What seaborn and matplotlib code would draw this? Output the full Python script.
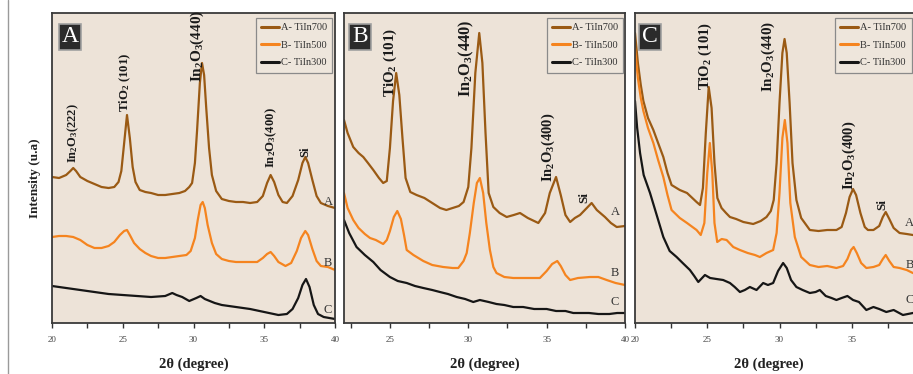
import numpy as np
import pandas as pd
import matplotlib
matplotlib.use("Agg")
import matplotlib.pyplot as plt
from matplotlib.lines import Line2D
import seaborn as sns

# ---------------- data (2theta in degree, intensity in a.u.) ----------------
panel_names = ["A", "B", "C"]
series_labels = ["A- TiIn700", "B- TiIn500", "C- TiIn300"]
series_colors = ["#9a5a14", "#f5841f", "#161616"]
x_limits = [(20, 40), (22.07, 40), (20, 40)]
x_ticks = [20, 25, 30, 35, 40]

# Panel A
pA_x700 = [20.0, 20.5, 21.0, 21.3, 21.5, 21.7, 22.0, 22.5, 23.0, 23.5, 24.0, 24.4, 24.7, 24.9, 25.1, 25.3, 25.5, 25.7, 25.9, 26.2, 26.6, 27.0, 27.5, 28.0, 28.5, 29.0, 29.4, 29.7, 29.9, 30.1, 30.25, 30.45, 30.6, 30.75, 30.9, 31.1, 31.3, 31.6, 32.0, 32.5, 33.0, 33.5, 34.0, 34.5, 34.9, 35.2, 35.45, 35.7, 36.0, 36.3, 36.6, 37.0, 37.4, 37.7, 37.9, 38.1, 38.4, 38.7, 39.0, 39.5, 40.0]
pA_y700 = [146, 145, 148, 152, 155, 152, 146, 142, 139, 136, 135, 136, 141, 152, 180, 208, 185, 156, 141, 133, 131, 130, 128, 128, 129, 130, 132, 136, 140, 160, 192, 240, 260, 248, 215, 175, 148, 132, 124, 122, 121, 121, 120, 121, 127, 140, 148, 141, 128, 121, 120, 127, 143, 160, 166, 160, 143, 127, 120, 117, 115]
pA_x500 = [20.0, 20.5, 21.0, 21.5, 22.0, 22.5, 23.0, 23.5, 24.0, 24.4, 24.8, 25.1, 25.3, 25.5, 25.8, 26.2, 26.6, 27.0, 27.5, 28.0, 28.5, 29.0, 29.5, 29.8, 30.1, 30.3, 30.5, 30.65, 30.8, 31.0, 31.3, 31.6, 32.0, 32.5, 33.0, 33.5, 34.0, 34.5, 34.9, 35.2, 35.45, 35.7, 36.0, 36.5, 36.9, 37.3, 37.6, 37.9, 38.1, 38.4, 38.7, 39.0, 39.5, 40.0]
pA_y500 = [86, 87, 87, 86, 83, 78, 75, 75, 77, 81, 88, 92, 93, 88, 80, 74, 70, 67, 65, 65, 66, 67, 68, 72, 85, 103, 118, 121, 115, 98, 80, 69, 64, 62, 61, 61, 61, 61, 65, 69, 71, 67, 61, 57, 60, 72, 85, 92, 88, 74, 62, 57, 56, 53]
pA_x300 = [20.0, 21.0, 22.0, 23.0, 24.0, 25.0, 26.0, 27.0, 28.0, 28.5, 28.8, 29.2, 29.7, 30.2, 30.5, 30.8, 31.5, 32.0, 33.0, 34.0, 35.0, 36.0, 36.6, 37.0, 37.4, 37.7, 37.95, 38.2, 38.5, 38.8, 39.2, 40.0]
pA_y300 = [37, 35, 33, 31, 29, 28, 27, 26, 27, 30, 28, 26, 22, 25, 27, 24, 20, 18, 16, 14, 11, 8, 9, 14, 25, 38, 44, 36, 18, 9, 6, 4]

# Panel B
pB_x700 = [22.07, 22.3, 22.66, 23.0, 23.3, 23.6, 23.94, 24.3, 24.57, 24.8, 25.0, 25.2, 25.4, 25.6, 25.8, 26.0, 26.3, 26.7, 27.2, 27.7, 28.2, 28.6, 29.0, 29.4, 29.7, 30.0, 30.2, 30.45, 30.7, 30.9, 31.1, 31.3, 31.6, 32.0, 32.45, 32.9, 33.3, 33.8, 34.47, 34.9, 35.2, 35.6, 35.9, 36.2, 36.5, 36.8, 37.13, 37.5, 37.87, 38.2, 38.72, 39.1, 39.47, 40.0]
pB_y700 = [203, 190, 176, 170, 166, 160, 153, 145, 140, 142, 175, 222, 250, 228, 185, 145, 131, 128, 125, 120, 115, 113, 115, 117, 121, 136, 175, 250, 290, 260, 190, 130, 116, 110, 106, 108, 110, 105, 100, 110, 130, 146, 128, 108, 101, 105, 108, 114, 120, 113, 106, 100, 96, 97]
pB_x500 = [22.07, 22.3, 22.66, 23.0, 23.4, 23.73, 24.1, 24.57, 24.8, 25.0, 25.25, 25.47, 25.7, 25.9, 26.07, 26.5, 27.13, 27.7, 28.4, 29.0, 29.36, 29.7, 29.9, 30.1, 30.35, 30.55, 30.74, 30.95, 31.15, 31.38, 31.6, 31.8, 32.3, 32.87, 33.5, 34.0, 34.57, 35.0, 35.35, 35.68, 35.9, 36.2, 36.5, 37.0, 37.76, 38.3, 38.83, 39.4, 40.0]
pB_y500 = [130, 115, 103, 95, 89, 85, 83, 79, 83, 92, 106, 112, 104, 88, 73, 68, 62, 58, 56, 55, 55, 62, 70, 90, 120, 140, 145, 130, 100, 73, 56, 50, 46, 45, 45, 45, 45, 52, 59, 62, 57, 48, 43, 45, 46, 46, 43, 40, 38]
pB_x300 = [22.07, 22.4, 22.87, 23.4, 23.94, 24.4, 25.0, 25.5, 26.07, 26.6, 27.13, 27.7, 28.19, 28.7, 29.26, 29.8, 30.32, 30.74, 31.3, 31.8, 32.3, 32.87, 33.5, 34.2, 35.0, 35.6, 36.2, 36.7, 37.13, 37.7, 38.3, 39.0, 39.5, 40.0]
pB_y300 = [103, 90, 76, 68, 61, 53, 46, 42, 40, 37, 35, 33, 31, 29, 26, 24, 21, 23, 21, 19, 18, 16, 16, 14, 14, 12, 12, 10, 10, 10, 9, 9, 10, 10]

# Panel C
pC_x700 = [20.0, 20.2, 20.4, 20.58, 20.9, 21.27, 21.6, 21.96, 22.25, 22.53, 23.1, 23.6, 24.26, 24.5, 24.7, 24.9, 25.1, 25.3, 25.5, 25.7, 25.99, 26.3, 26.57, 27.0, 27.5, 28.18, 28.7, 29.1, 29.4, 29.6, 29.8, 30.0, 30.2, 30.35, 30.5, 30.7, 30.9, 31.17, 31.5, 32.1, 32.7, 33.3, 33.94, 34.3, 34.6, 34.85, 35.09, 35.3, 35.6, 35.9, 36.12, 36.5, 36.9, 37.15, 37.35, 37.6, 37.9, 38.31, 38.8, 39.23, 40.0]
pC_y700 = [290, 260, 238, 222, 205, 193, 180, 166, 150, 138, 133, 130, 121, 118, 135, 190, 236, 215, 160, 125, 115, 110, 106, 104, 101, 99, 102, 106, 112, 123, 160, 220, 270, 284, 270, 220, 160, 123, 105, 93, 92, 93, 93, 96, 110, 126, 134, 128, 110, 96, 93, 93, 97, 106, 111, 104, 95, 90, 89, 88, 86]
pC_x500 = [20.0, 20.2, 20.4, 20.58, 20.9, 21.27, 21.6, 21.96, 22.25, 22.53, 23.1, 23.6, 24.26, 24.55, 24.8, 25.0, 25.18, 25.35, 25.5, 25.69, 26.0, 26.34, 26.8, 27.26, 27.8, 28.3, 28.64, 29.1, 29.56, 29.8, 30.0, 30.2, 30.37, 30.55, 30.75, 31.06, 31.5, 32.1, 32.7, 33.3, 33.94, 34.4, 34.7, 34.95, 35.13, 35.35, 35.65, 36.01, 36.5, 36.9, 37.15, 37.35, 37.6, 37.9, 38.31, 38.8, 39.23, 40.0]
pC_y500 = [275, 245, 225, 212, 195, 180, 163, 146, 128, 113, 105, 100, 93, 88, 100, 150, 180, 150, 100, 81, 84, 83, 76, 73, 70, 68, 66, 70, 73, 90, 130, 185, 203, 180, 120, 86, 66, 58, 56, 57, 55, 57, 64, 73, 76, 70, 60, 55, 56, 58, 64, 68, 62, 56, 55, 53, 50, 48]
pC_x300 = [20.0, 20.15, 20.35, 20.6, 21.04, 21.5, 21.96, 22.4, 22.88, 23.3, 23.8, 24.1, 24.38, 24.84, 25.2, 25.64, 26.1, 26.57, 26.9, 27.26, 27.6, 27.95, 28.41, 28.87, 29.2, 29.56, 29.9, 30.25, 30.5, 30.8, 31.17, 31.6, 32.1, 32.5, 32.79, 33.2, 33.6, 33.94, 34.3, 34.7, 35.09, 35.5, 36.01, 36.5, 36.9, 37.39, 37.9, 38.54, 39.23, 40.0]
pC_y300 = [222, 195, 170, 148, 130, 108, 86, 72, 66, 60, 53, 47, 41, 48, 45, 44, 43, 40, 36, 31, 33, 36, 33, 40, 38, 40, 52, 60, 55, 43, 36, 33, 30, 31, 33, 27, 25, 23, 25, 27, 23, 21, 13, 16, 14, 11, 13, 8, 10, 9]

panel_data = [
    [(pA_x700, pA_y700), (pA_x500, pA_y500), (pA_x300, pA_y300)],
    [(pB_x700, pB_y700), (pB_x500, pB_y500), (pB_x300, pB_y300)],
    [(pC_x700, pC_y700), (pC_x500, pC_y500), (pC_x300, pC_y300)],
]

# peak annotations: (text, x, y-bottom, font size)
peak_labels = [
    [("In$_2$O$_3$(222)", 21.5, 160, 9), ("TiO$_2$ (101)", 25.2, 211, 9.2),
     ("In$_2$O$_3$(440)", 30.25, 241, 11), ("In$_2$O$_3$(400)", 35.5, 155, 9.2), ("Si", 37.9, 166, 9)],
    [("TiO$_2$ (101)", 25.0, 226, 10.8), ("In$_2$O$_3$(440)", 29.9, 226, 11.8),
     ("In$_2$O$_3$(400)", 35.1, 141, 10.5), ("Si", 37.4, 120, 9.5)],
    [("TiO$_2$ (101)", 24.84, 233, 10.6), ("In$_2$O$_3$(440)", 29.2, 231, 10.8),
     ("In$_2$O$_3$(400)", 34.85, 133, 10.5), ("Si", 37.1, 113, 9.5)],
]
curve_tags = ["A", "B", "C"]
curve_tag_pos = [
    [(39.5, 121), (39.5, 60), (39.5, 13)],
    [(39.36, 111), (39.36, 50), (39.36, 21)],
    [(39.0, 100), (39.0, 58), (39.0, 23)],
]

# ---------------- style ----------------
sns.set_style("ticks")
serif = ["Liberation Serif", "DejaVu Serif"]
plt.rcParams["font.family"] = serif
plt.rcParams["mathtext.fontset"] = "custom"
plt.rcParams["mathtext.rm"] = "Liberation Serif:bold"
plt.rcParams["mathtext.bf"] = "Liberation Serif:bold"
plt.rcParams["mathtext.default"] = "bf"

W, H = 913, 374
fig = plt.figure(figsize=(W / 100, H / 100), dpi=100)
fig.patch.set_facecolor("white")

# axes boxes in pixels: (left, right) ; top 13, bottom 323
ax_px = [(52, 335), (344, 625), (635, 924)]
top_px, bot_px = 13, 323
xlabel_center = [0.5, 0.5, 0.464]
legend_anchor = [(0.99, 0.985), (0.994, 0.985), (0.957, 0.985)]
letter_pos = [(0.064, 0.923), (0.057, 0.923), (0.052, 0.923)]

for i, (l, r) in enumerate(ax_px):
    ax = fig.add_axes([l / W, (H - bot_px) / H, (r - l) / W, (bot_px - top_px) / H])
    ax.set_facecolor("#ede3d8")
    frames = []
    for s, (xs, ys) in enumerate(panel_data[i]):
        frames.append(pd.DataFrame({"x": xs, "y": ys, "series": series_labels[s]}))
    df = pd.concat(frames, ignore_index=True)
    sns.lineplot(data=df, x="x", y="y", hue="series", hue_order=series_labels,
                 palette=series_colors, estimator=None, sort=False, lw=1.6,
                 ax=ax, legend=True)
    ax.set_yticks([])
    ax.set_ylabel("")
    ax.set_xticks(x_ticks)
    ax.set_xticks([22.5, 27.5, 32.5, 37.5], minor=True)
    ax.set_xlim(*x_limits[i])
    ax.set_ylim(0, 310)
    ax.tick_params(axis="x", which="both", direction="out", length=3.5, width=1,
                   color="#333333", labelsize=6.5, labelcolor="#444444", pad=6)
    for sp in ax.spines.values():
        sp.set_visible(True)
        sp.set_color("#3a3a3a")
        sp.set_linewidth(1.3)
    ax.set_xlabel("2θ (degree)", fontsize=10.5, fontweight="bold", color="#222222")
    ax.xaxis.set_label_coords(xlabel_center[i], -0.11)

    handles, labels = ax.get_legend_handles_labels()
    leg = ax.legend(handles, labels, loc="upper right", bbox_to_anchor=legend_anchor[i],
                    borderaxespad=0, frameon=True, fancybox=False, fontsize=7.5,
                    handlelength=1.7, handletextpad=0.2, labelspacing=0.8,
                    borderpad=0.5, framealpha=1)
    leg.get_frame().set_facecolor("#eee6dc")
    leg.get_frame().set_edgecolor("#8a8a8a")
    leg.get_frame().set_linewidth(0.9)
    for t in leg.get_texts():
        t.set_color("#333333")
    for h in leg.legend_handles:
        h.set_linewidth(2.2)

    for txt, px, py, fs in peak_labels[i]:
        ax.text(px, py, txt, rotation=90, ha="center", va="bottom", fontsize=fs,
                fontweight="bold", color="#1a1a1a")
    for tag, (tx, ty) in zip(curve_tags, curve_tag_pos[i]):
        ax.text(tx, ty, tag, ha="center", va="center", fontsize=9, color="#333333",
                clip_on=False)
    lx, ly = letter_pos[i]
    ax.text(lx, ly, panel_names[i], transform=ax.transAxes, ha="center", va="center",
            fontsize=17, color="white",
            bbox=dict(boxstyle="square,pad=0.12", fc="#2b2b2b", ec="#a0a0a0", lw=1.2))

fig.text(35 / W, 1 - 178 / H, "Intensity (u.a)", rotation=90, ha="center", va="center",
         fontsize=9.5, fontweight="bold", color="#222222")
fig.add_artist(Line2D([8 / W, 8 / W], [0, 1], color="#9a9a9a", lw=1.0))

fig.savefig("out.png", dpi=100, facecolor="white")
